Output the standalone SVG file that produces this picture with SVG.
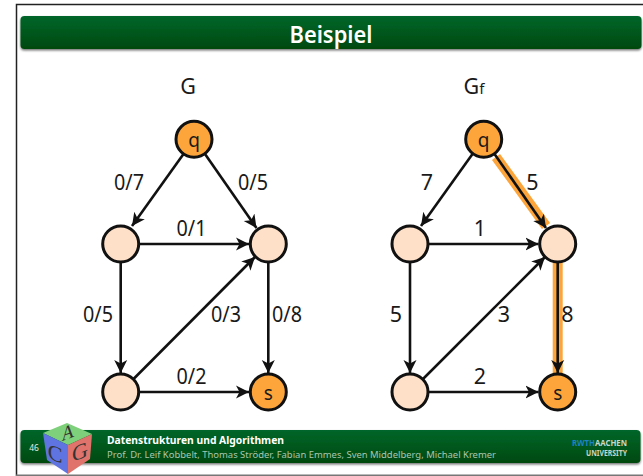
<svg xmlns="http://www.w3.org/2000/svg" width="643" height="476" viewBox="0 0 643 476">
<style>
text{font-family:"Noto Sans","Open Sans","DejaVu Sans",sans-serif;fill:#1a1a1a}
.l{font-size:21.500px;text-anchor:middle}
.m{font-size:19px;text-anchor:middle}
.n{stroke:#111;stroke-width:3;fill:#fee0c8}
.t{stroke:#111;stroke-width:3;fill:#fda53b}
.e{stroke:#111;stroke-width:2.600;fill:none;marker-end:url(#a)}
.h{stroke:#fda53b;stroke-width:10;fill:none}
.c{font-family:"Liberation Serif",serif;font-size:22px;fill:#333;text-anchor:middle}
</style>
<defs>
<marker id="a" markerUnits="userSpaceOnUse" markerWidth="15" markerHeight="15" refX="13" refY="7" orient="auto"><path d="M0 0.500L13 7L0 13.500L3.500 7Z" fill="#111"/></marker>
<linearGradient id="g" x1="0" y1="0" x2="0" y2="1"><stop offset="0" stop-color="#05662a"/><stop offset="1" stop-color="#03490f"/></linearGradient>
<filter id="s" x="-2%" y="-20%" width="104%" height="150%"><feDropShadow dx="0" dy="1.500" stdDeviation="1.200" flood-color="#000" flood-opacity=".55"/></filter>
</defs>
<rect width="643" height="476" fill="#fff"/>
<path d="M16.500 476V4.500H643" fill="none" stroke="#222" stroke-width="1.500"/>
<path d="M16 475.200H643" fill="none" stroke="#777" stroke-width="1.500"/>
<g id="title">
<rect x="20.500" y="16" width="621" height="33" rx="4" fill="url(#g)" filter="url(#s)"/>
<text x="331" y="43" font-size="23" font-weight="600" text-anchor="middle" style="fill:#fff" textLength="83" lengthAdjust="spacingAndGlyphs">Beispiel</text>
</g>
<g id="footer">
<rect x="20.500" y="430" width="620" height="33" rx="4" fill="url(#g)" filter="url(#s)"/>
<text x="34" y="451" font-size="8.500" text-anchor="middle" style="fill:#e4ece4">46</text>
<text x="107" y="444" font-size="10.500" font-weight="700" style="fill:#fff" textLength="177" lengthAdjust="spacingAndGlyphs">Datenstrukturen und Algorithmen</text>
<text x="107" y="458" font-size="9.500" style="fill:#a9c6ae" textLength="389" lengthAdjust="spacingAndGlyphs">Prof. Dr. Leif Kobbelt, Thomas Ströder, Fabian Emmes, Sven Middelberg, Michael Kremer</text>
<text x="572" y="445.500" font-size="8" font-weight="700" style="fill:#c8d6c8" textLength="55" lengthAdjust="spacingAndGlyphs"><tspan style="fill:#1c83c9">RWTH</tspan>AACHEN</text>
<text x="586" y="456" font-size="8" font-weight="700" style="fill:#c8d6c8" textLength="41" lengthAdjust="spacingAndGlyphs">UNIVERSITY</text>
</g>
<g id="cube">
<polygon points="67,423 92,434 68,445 43,433" fill="#7ed07a"/>
<polygon points="43,433 68,445 68,474 47,460" fill="#5f74e0"/>
<polygon points="92,434 90,459 68,474 68,445" fill="#e0746c"/>
<text class="c" transform="translate(68 439) rotate(-20) skewX(-20)" style="font-size:19px">A</text>
<text class="c" transform="translate(55 461) skewY(20)">C</text>
<text class="c" transform="translate(80 459) skewY(-22)">G</text>
</g>
<g id="connectors">
<path class="h" d="M496 157L546 226"/>
<path class="h" d="M557.700 262V374"/>
<path class="e" d="M183.500 154L132 226"/>
<path class="e" d="M205 154L256.500 228"/>
<path class="e" d="M139 244H249"/>
<path class="e" d="M120.700 262V373"/>
<path class="e" d="M133.500 379L255 257"/>
<path class="e" d="M268.300 262V373"/>
<path class="e" d="M139 392H249"/>
<path class="e" d="M472.500 154L421 226"/>
<path class="e" d="M494.500 154L546 228"/>
<path class="e" d="M428 244H538.500"/>
<path class="e" d="M410 262V373"/>
<path class="e" d="M423 379L545 257"/>
<path class="e" d="M557.700 262V373"/>
<path class="e" d="M428 392H538.500"/>
</g>
<g id="labels">
<text class="l" x="188" y="94">G</text>
<text class="l" x="474" y="94">G<tspan font-size="15">f</tspan></text>
<text class="l" x="129" y="190" textLength="30" lengthAdjust="spacingAndGlyphs">0/7</text>
<text class="l" x="253" y="190" textLength="30" lengthAdjust="spacingAndGlyphs">0/5</text>
<text class="l" x="191.500" y="236" textLength="30" lengthAdjust="spacingAndGlyphs">0/1</text>
<text class="l" x="98" y="322" textLength="30" lengthAdjust="spacingAndGlyphs">0/5</text>
<text class="l" x="226" y="322" textLength="30" lengthAdjust="spacingAndGlyphs">0/3</text>
<text class="l" x="287" y="322" textLength="30" lengthAdjust="spacingAndGlyphs">0/8</text>
<text class="l" x="191.500" y="384" textLength="30" lengthAdjust="spacingAndGlyphs">0/2</text>
<text class="l" x="427" y="190">7</text>
<text class="l" x="532.500" y="190">5</text>
<text class="l" x="480" y="236">1</text>
<text class="l" x="396" y="322">5</text>
<text class="l" x="504" y="322">3</text>
<text class="l" x="567.500" y="322">8</text>
<text class="l" x="480" y="384">2</text>
</g>
<g id="n-q"><circle class="t" cx="194" cy="139.300" r="18"/><text class="m" x="194" y="147">q</text></g>
<g id="n-a"><circle class="n" cx="120.700" cy="244" r="18"/></g>
<g id="n-b"><circle class="n" cx="268.300" cy="244" r="18"/></g>
<g id="n-c"><circle class="n" cx="120.700" cy="392" r="18"/></g>
<g id="n-s"><circle class="t" cx="268.300" cy="392" r="18"/><text class="m" x="268.300" y="400">s</text></g>
<g id="f-q"><circle class="t" cx="483.700" cy="139.300" r="18"/><text class="m" x="483.700" y="147">q</text></g>
<g id="f-a"><circle class="n" cx="410" cy="244" r="18"/></g>
<g id="f-b"><circle class="n" cx="557.700" cy="244" r="18"/></g>
<g id="f-c"><circle class="n" cx="410" cy="392" r="18"/></g>
<g id="f-s"><circle class="t" cx="557.700" cy="392" r="18"/><text class="m" x="557.700" y="400">s</text></g>
</svg>
